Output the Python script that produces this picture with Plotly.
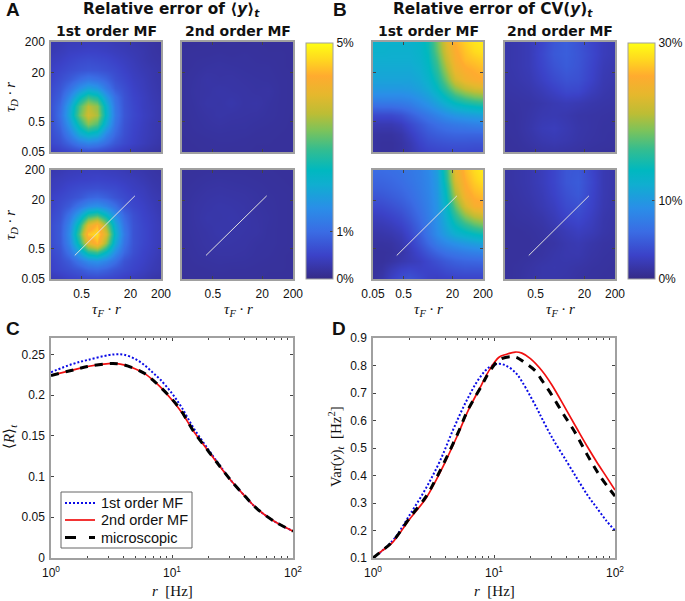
import numpy as np
import plotly.graph_objects as go

W, H = 685, 601

# ---------- heatmap data: rows listed top (tau_D=200) to bottom (tau_D=0.05), in percent ----------
tau_grid = [0.05, 0.126, 0.317, 0.796, 2.0, 5.02, 12.6, 31.7, 79.6, 200]
tau_fine = [0.05, 0.1, 0.2, 0.398, 0.794, 1.585, 3.162, 6.31, 12.59, 25.12, 50.12, 100, 200]

mean_first_upper = [
 [.31,.34,.38,.39,.41,.40,.39,.35,.33,.29,.25,.22,.19],
 [.34,.39,.45,.47,.49,.48,.45,.41,.37,.33,.29,.23,.20],
 [.41,.46,.53,.59,.62,.59,.56,.49,.43,.37,.30,.25,.22],
 [.47,.55,.63,.70,.74,.72,.66,.59,.49,.41,.34,.29,.24],
 [.52,.64,.78,1.0,1.15,1.05,.90,.67,.56,.45,.38,.30,.25],
 [.59,.74,1.05,1.5,1.8,1.65,1.2,.80,.64,.49,.40,.32,.26],
 [.64,.85,1.4,2.2,2.75,2.5,1.7,1.05,.70,.53,.43,.34,.28],
 [.68,.98,1.75,2.85,3.5,3.25,2.1,1.15,.72,.56,.43,.36,.29],
 [.66,1.05,1.85,3.0,3.7,3.4,2.2,1.2,.74,.57,.45,.37,.29],
 [.66,.95,1.6,2.5,3.2,2.9,1.95,1.1,.70,.54,.43,.34,.29],
 [.62,.80,1.25,1.9,2.2,2.05,1.4,.95,.66,.51,.41,.34,.27],
 [.56,.67,.90,1.2,1.35,1.25,1.0,.75,.59,.48,.39,.31,.25],
 [.37,.45,.51,.57,.59,.57,.51,.45,.39,.33,.27,.23,.18]]
mean_first_lower = [
 [.30,.34,.38,.40,.43,.43,.41,.39,.36,.31,.28,.24,.21],
 [.37,.41,.45,.48,.49,.51,.49,.47,.43,.39,.33,.27,.24],
 [.41,.47,.55,.61,.64,.66,.62,.59,.51,.44,.39,.31,.26],
 [.48,.56,.64,.74,.90,.95,.85,.70,.60,.51,.43,.35,.30],
 [.51,.63,.80,1.15,1.45,1.55,1.35,1.05,.70,.57,.48,.39,.31],
 [.57,.70,1.1,1.8,2.6,2.8,2.25,1.5,.95,.66,.51,.43,.34],
 [.62,.78,1.35,2.5,3.9,4.4,3.3,1.95,1.1,.70,.55,.45,.37],
 [.62,.80,1.45,2.85,4.5,4.7,3.75,2.15,1.2,.70,.56,.45,.37],
 [.62,.78,1.35,2.5,3.9,4.4,3.3,1.95,1.1,.70,.55,.45,.37],
 [.57,.70,1.1,1.8,2.6,2.8,2.25,1.5,.95,.66,.51,.43,.34],
 [.51,.63,.80,1.15,1.45,1.55,1.35,1.05,.70,.57,.48,.39,.31],
 [.48,.56,.64,.74,.90,.95,.85,.70,.60,.51,.43,.35,.30],
 [.34,.39,.47,.52,.54,.56,.53,.50,.43,.38,.33,.26,.22]]
mean_second_upper = [
 [.15,.15,.16,.15,.16,.15,.16,.15,.15,.15],
 [.16,.17,.17,.18,.17,.18,.17,.16,.16,.15],
 [.16,.18,.20,.21,.20,.19,.18,.18,.16,.15],
 [.17,.20,.24,.22,.23,.21,.20,.19,.17,.16],
 [.17,.21,.23,.26,.24,.23,.21,.22,.17,.16],
 [.17,.20,.25,.24,.28,.23,.24,.20,.17,.16],
 [.16,.19,.22,.25,.23,.22,.21,.19,.17,.15],
 [.16,.18,.20,.21,.20,.20,.18,.17,.16,.15],
 [.15,.16,.17,.18,.18,.17,.16,.16,.15,.15],
 [.15,.15,.16,.16,.15,.16,.15,.15,.15,.15]]
mean_second_lower = [
 [.16,.16,.17,.17,.17,.17,.16,.16,.15,.15],
 [.16,.18,.20,.21,.20,.19,.18,.17,.16,.15],
 [.17,.20,.23,.24,.23,.22,.20,.18,.17,.16],
 [.18,.22,.25,.27,.26,.24,.21,.19,.17,.16],
 [.18,.22,.27,.26,.28,.25,.22,.20,.17,.16],
 [.18,.21,.24,.28,.26,.24,.23,.19,.17,.16],
 [.17,.20,.23,.25,.24,.23,.20,.19,.17,.16],
 [.16,.19,.21,.22,.22,.21,.19,.18,.16,.15],
 [.16,.17,.18,.19,.18,.18,.17,.16,.16,.15],
 [.15,.16,.16,.16,.16,.16,.16,.15,.15,.15]]
cv_first_upper = [
 [12.5,12.5,12.5,12.5,12.5,13,14.5,18.5,23,26,27.5,28.5,29],
 [12.5,12.5,12.3,12.3,12.3,12.8,14.2,18,22.5,25.5,27,28,28.5],
 [12,12,12,12,12,12.5,13.8,17,21.5,25,26.5,27,27.5],
 [11.5,11.5,11.5,11.5,11.5,12,13.3,16,20,24,25.5,26,26.5],
 [11,11,11,11,11,11.5,12.7,15,18.5,22.5,24.5,25.3,25.8],
 [10,10,10,10,10.2,10.8,11.8,13.8,16.5,19.5,21.5,22.5,23],
 [8.5,8.5,8.5,8.5,8.8,9.5,10.5,12,14,16,17.5,18.5,19],
 [6,6.2,6.2,6.5,7,8,9,10.2,11.5,12.7,13.5,14,14.5],
 [3.5,3.5,3.5,4,5,6,7,8,9,9.7,10.2,10.5,10.8],
 [2,2,2,2.5,3.5,4.5,5.5,6.2,6.8,7.2,7.5,7.8,8],
 [1.3,1.2,1.2,1.6,2.6,3.6,4.5,5,5.3,5.5,5.5,5.5,5.5],
 [1.2,1,1,1.3,2,3,3.7,4,4.2,4.3,4.3,4.2,4.2],
 [1.2,1,1,1.3,1.8,2.5,3,3.2,3.3,3.4,3.4,3.3,3.3]]
cv_first_lower = [
 [6,6,6.2,6.5,7,7.5,8.5,10.5,16,23.5,26.5,28,29],
 [5.5,5.6,5.8,6.2,6.8,7.4,8.3,10.2,15.5,22.8,26,27.5,28.5],
 [5,5.1,5.4,5.8,6.4,7.2,8.2,10,14.5,21.5,25.5,26.8,27.5],
 [4.2,4.4,4.8,5.3,6,6.9,8,9.8,13.8,20,24.5,26,26.5],
 [3.4,3.6,4,4.6,5.4,6.5,7.8,9.6,13,18,22.5,25,25.5],
 [2.6,2.8,3.2,3.8,4.8,6,7.5,9.4,12.3,16,19.5,21.5,22.5],
 [2,2.1,2.4,3,4,5.4,7.2,9.2,11.5,14,16,17.5,18.5],
 [1.5,1.6,1.8,2.3,3.4,4.9,6.8,8.8,10.5,12,13,13.8,14.5],
 [1.2,1.2,1.3,1.8,2.8,4.2,5.8,7.4,8.5,9.3,10,10.5,11],
 [1,1,1.1,1.5,2.3,3.3,4.5,5.6,6.5,7,7.5,7.8,8],
 [1,1,1.3,1.8,2.2,2.6,3.3,4,4.7,5.2,5.5,5.6,5.7],
 [1,1.3,2.2,3,3.3,3,3,3.2,3.7,4,4.2,4.2,4.2],
 [1,1.6,2.8,3.8,4.2,3.6,2.8,2.6,2.8,3,3,3,3]]
cv_second_upper = [
 [1.6,1.8,2.2,3.2,4.4,5,4.2,3.2,2.4,2],
 [1.6,1.8,2.2,3.4,4.6,5,4.4,3.4,2.4,2],
 [1.6,1.8,2.2,3.2,4.2,4.8,4.3,3.2,2.2,1.8],
 [1.5,1.7,2,2.8,3.6,4.2,4,3,2,1.7],
 [1.4,1.5,1.7,2.2,2.8,3.4,3.3,2.4,1.8,1.5],
 [1.2,1.3,1.4,1.7,2,2.2,2,1.7,1.5,1.4],
 [1.1,1.2,1.5,1.9,2,1.8,1.5,1.4,1.3,1.2],
 [1.1,1.2,1.6,2.2,2.4,2,1.6,1.4,1.2,1.2],
 [1,1.1,1.4,1.8,2,1.8,1.5,1.3,1.2,1.1],
 [1,1,1.1,1.3,1.4,1.3,1.2,1.1,1,1]]
cv_second_lower = [
 [1.3,1.5,1.8,2.4,3.2,4.4,4.6,3.2,2,1.6],
 [1.3,1.5,1.8,2.4,3.2,4.4,4.8,3.4,2,1.6],
 [1.2,1.4,1.7,2.2,3,4,4.6,3.2,2,1.5],
 [1.2,1.3,1.5,2,2.6,3.6,4,3,1.9,1.5],
 [1,1.2,1.3,1.6,2.2,3,3.4,2.6,1.7,1.4],
 [1,1,1.1,1.3,1.7,2.2,2.6,2.2,1.6,1.3],
 [1,1,1,1.2,1.4,1.8,2,1.6,1.3,1.2],
 [1,1,1.1,1.3,1.6,1.8,1.8,1.4,1.2,1.1],
 [1,1.1,1.3,1.6,1.7,1.6,1.4,1.2,1.1,1],
 [1,1.1,1.4,1.6,1.6,1.5,1.2,1.1,1,1]]

diag_tau = [0.3, 28]
heat_ticks = [0.05, 0.5, 20, 200]
mean_cbar = [0, 1, 5]
cv_cbar = [0, 10, 30]

# ---------- line data ----------
r_c_first = [1,1.5,2,3,3.5,4,5,6,7,8,10,12,15,20,25,30,40,50,70,100]
c_first   = [.228,.238,.243,.249,.25,.2495,.244,.236,.227,.219,.202,.185,.160,.133,.113,.097,.076,.061,.045,.033]
r_c_second = [1,1.5,2,3,3.5,4,5,6,7,8,10,12,15,20,25,30,40,50,70,100]
c_second   = [.224,.2305,.235,.2385,.2385,.237,.232,.226,.218,.21,.194,.179,.156,.131,.112,.097,.076,.061,.045,.033]
r_c_micro = [1,1.5,2,3,3.5,4,5,6,7,8,10,12,15,20,25,30,40,50,70,100]
c_micro   = [.224,.2305,.235,.2385,.2385,.237,.232,.226,.218,.21,.195,.18,.156,.131,.112,.097,.076,.061,.045,.033]

r_d_first = [1,1.2,1.5,2,2.75,3.56,4.6,5.9,7.6,9.2,11,12.5,15,17,20,23,25,30,40,50,60,70,85,100]
d_first   = [.1,.128,.17,.255,.355,.451,.567,.67,.755,.795,.806,.8,.775,.742,.688,.638,.606,.54,.45,.38,.325,.285,.235,.2]
r_d_second = [1,1.17,1.46,2,2.75,3.34,4.04,5.04,6.1,7.85,9.2,11,12.5,15,17,20,25,30,40,50,60,70,85,100]
d_second   = [.1,.124,.158,.24,.318,.385,.458,.55,.635,.728,.785,.83,.84,.849,.845,.825,.78,.73,.635,.56,.5,.452,.395,.347]
r_d_micro = [1,1.17,1.46,2,2.75,3.34,4.04,5.04,6.1,7.85,9.2,11.1,14,15.5,18,22,25,29,37,47,59,76,100]
d_micro   = [.1,.124,.161,.245,.324,.391,.464,.555,.639,.724,.779,.821,.832,.829,.81,.78,.745,.703,.627,.555,.475,.395,.325]

legend_names = ["1st order MF", "2nd order MF", "microscopic"]
c_yticks = [0, .05, .1, .15, .2, .25]
d_yticks = [.1, .2, .3, .4, .5, .6, .7, .8, .9]
minor_r = [2,3,4,5,6,7,8,9,20,30,40,50,60,70,80,90]

parula = [[0,"#352a87"],[.1,"#3b42c8"],[.2,"#3a6ce4"],[.3,"#2a8ee8"],[.4,"#10aed0"],[.46,"#00b8c0"],
          [.55,"#35bd8f"],[.63,"#7dc35a"],[.7,"#bcbd35"],[.78,"#e5b82d"],[.86,"#ffab2f"],[.93,"#ffd81f"],[1,"#ffff14"]]

SANS = "Liberation Sans"
SERIF = "Liberation Serif"
AXC = "#a0a0a0"
TKC = "#444444"

def xdom(a, b): return [a / W, b / W]
def ydom(top, bot): return [1 - bot / H, 1 - top / H]

fig = go.Figure()
layout = {}

xcols = [(51,161),(182,293),(373,483),(505,615)]
yrows = [(42,152),(170,279)]
panels = [
 (mean_first_upper,tau_fine,0,0,"coloraxis"),(mean_second_upper,tau_grid,1,0,"coloraxis"),
 (mean_first_lower,tau_fine,0,1,"coloraxis"),(mean_second_lower,tau_grid,1,1,"coloraxis"),
 (cv_first_upper,tau_fine,2,0,"coloraxis2"),(cv_second_upper,tau_grid,3,0,"coloraxis2"),
 (cv_first_lower,tau_fine,2,1,"coloraxis2"),(cv_second_lower,tau_grid,3,1,"coloraxis2"),
]
lt = np.log10(heat_ticks)
rng = [float(np.log10(0.05)), float(np.log10(200))]
for i,(z,tg,c,rw,ca) in enumerate(panels):
    n = i + 1
    s = "" if n == 1 else str(n)
    lg = np.log10(tg)
    if rw == 1:
        xtext = ["0.05","0.5","20","200"] if c == 2 else ["","0.5","20","200"]
    else:
        xtext = [""]*4
    ytext = ["0.05","0.5","20","200"] if c == 0 else [""]*4
    common = dict(range=rng, tickmode="array", tickvals=list(lt), ticks="inside", ticklen=3, tickcolor=TKC,
                  tickwidth=1, showgrid=False, zeroline=False, showline=True, linecolor=AXC, linewidth=1.5,
                  mirror="ticks", tickfont=dict(family=SANS, size=12, color="#111"))
    layout["xaxis"+s] = dict(common, domain=xdom(*xcols[c]), anchor="y"+s, ticktext=xtext, ticklabelstandoff=3)
    layout["yaxis"+s] = dict(common, domain=ydom(*yrows[rw]), anchor="x"+s, ticktext=ytext, ticklabelstandoff=2)
    fig.add_trace(go.Heatmap(x=lg, y=lg[::-1], z=z, coloraxis=ca, zsmooth="best", xaxis="x"+s, yaxis="y"+s,
                             hoverinfo="skip"))
    if rw == 1:
        fig.add_trace(go.Scatter(x=np.log10(diag_tau), y=np.log10(diag_tau), mode="lines", showlegend=False,
                                 line=dict(color="#e0e0e0", width=1), xaxis="x"+s, yaxis="y"+s, hoverinfo="skip"))

def cbar(x, vals):
    return dict(x=x/W, xanchor="left", y=(1-(43+279)/2/H), yanchor="middle", len=236/H, lenmode="fraction",
                thickness=27, thicknessmode="pixels", xpad=0, ypad=0, outlinecolor=AXC, outlinewidth=1,
                tickmode="array", tickvals=vals, ticktext=[f"{v}%" for v in vals], ticks="inside", ticklen=3,
                tickcolor=TKC, tickfont=dict(family=SANS, size=12, color="#111"))
layout["coloraxis"] = dict(colorscale=parula, cmin=0, cmax=5, colorbar=cbar(306, mean_cbar))
layout["coloraxis2"] = dict(colorscale=parula, cmin=0, cmax=30, colorbar=cbar(628, cv_cbar))

# line panels
BLUE = dict(color="#0a0ae6", width=2, dash="2px,2px", shape="spline")
RED = dict(color="#f01010", width=1.7, shape="spline")
BLACK = dict(color="#000000", width=3, dash="8px,7px", shape="spline")
def add_lines(s, rs, ys):
    for rv, yv, name, st in zip(rs, ys, legend_names, (BLUE, RED, BLACK)):
        fig.add_trace(go.Scatter(x=rv, y=yv, name=name, mode="lines", line=st, showlegend=False,
                                 xaxis="x"+s, yaxis="y"+s, hoverinfo="skip"))
add_lines("9", (r_c_first,r_c_second,r_c_micro), (c_first,c_second,c_micro))
add_lines("10", (r_d_first,r_d_second,r_d_micro), (d_first,d_second,d_micro))

def line_axes(s, xd, ytk, ytxt, yr):
    layout["xaxis"+s] = dict(type="log", range=[0,2], domain=xdom(*xd), anchor="y"+s, showgrid=False, zeroline=False,
        showline=True, linecolor=AXC, linewidth=1.5, mirror="ticks", ticks="inside", ticklen=3, tickcolor=TKC,
        tickmode="array", tickvals=[1,10,100], ticktext=["10<sup>0</sup>","10<sup>1</sup>","10<sup>2</sup>"],
        tickfont=dict(family=SANS, size=12, color="#111"), ticklabelstandoff=3,
        minor=dict(ticks="inside", ticklen=2, tickcolor=TKC, tickmode="array", tickvals=minor_r, showgrid=False))
    layout["yaxis"+s] = dict(range=yr, domain=ydom(338,558), anchor="x"+s, showgrid=False, zeroline=False,
        showline=True, linecolor=AXC, linewidth=1.5, mirror="ticks", ticks="inside", ticklen=3, tickcolor=TKC,
        tickmode="array", tickvals=ytk, ticktext=ytxt, tickfont=dict(family=SANS, size=12, color="#111"),
        ticklabelstandoff=2)
line_axes("9", (51,293), c_yticks, ["0","0.05","0.1","0.15","0.2","0.25"], [0,0.27])
line_axes("10", (373,615), d_yticks, [f"{v:g}" for v in d_yticks], [0.1,0.9])

# texts
anns = []
def txt(x, y, t, size, family=SANS, angle=0, color="#111", **kw):
    d = dict(x=x/W, y=1-y/H, xref="paper", yref="paper", text=t, showarrow=False, textangle=angle,
             font=dict(family=family, size=size, color=color), xanchor="center", yanchor="middle")
    d.update(kw)
    anns.append(d)
for lab,x,y in (("A",13,9),("B",340,9),("C",13,328),("D",339,328)):
    txt(x,y,f"<b>{lab}</b>",19,height=16)
TITLE = "DejaVu Sans"
txt(171,10,"<b>Relative error of ⟨<i>y</i>⟩<sub><i>t</i></sub></b>",15.3,TITLE,height=20)
txt(493,10,"<b>Relative error of CV(<i>y</i>)<sub><i>t</i></sub></b>",15.3,TITLE,height=20)
for x,t in ((106,"1st order MF"),(238,"2nd order MF"),(428,"1st order MF"),(560,"2nd order MF")):
    txt(x,31,f"<b>{t}</b>",14,TITLE)
TD = "<i>τ<sub>D</sub> · r</i>"
TF = "<i>τ<sub>F</sub> · r</i>"
txt(11,97,TD,15,SERIF,-90); txt(11,225,TD,15,SERIF,-90)
for x in (106,238,428,560):
    txt(x,310,TF,15,SERIF)
txt(172,591,"<i>r</i>  [Hz]",15,SERIF); txt(494,591,"<i>r</i>  [Hz]",15,SERIF)
txt(10,437,"⟨<i>R</i>⟩<sub><i>t</i></sub>",15,SERIF,-90)
txt(336,447,"Var(<i>y</i>)<sub><i>t</i></sub>  [Hz<sup>2</sup>]",15,SERIF,-90)

# hand-built legend box, so that its rows are as tight as the reference's
def px(x): return x / W
def py(y): return 1 - y / H
shapes = [dict(type="rect", xref="paper", yref="paper", x0=px(61), x1=px(192), y0=py(548), y1=py(492),
               fillcolor="white", line=dict(color="#666666", width=1), layer="above")]
sample_styles = [BLUE, RED, dict(color="#000000", width=3, dash="11px,13px")]
for name, rowy, st in zip(legend_names, (503, 520, 537.5), sample_styles):
    ln = dict(color=st["color"], width=st["width"])
    if "dash" in st:
        ln["dash"] = st["dash"]
    shapes.append(dict(type="line", xref="paper", yref="paper", x0=px(65), x1=px(95), y0=py(rowy), y1=py(rowy),
                       line=ln, layer="above"))
    txt(99, rowy, name, 14.5, SANS, xanchor="left")

fig.update_layout(**layout)
fig.update_layout(width=W, height=H, autosize=False,
    margin=dict(l=0,r=0,t=0,b=0,autoexpand=False), plot_bgcolor="white",
    paper_bgcolor="white", annotations=anns, shapes=shapes, showlegend=False)

fig.write_html("out.html", config=dict(displayModeBar=False), post_script="document.body.style.margin='0';")
